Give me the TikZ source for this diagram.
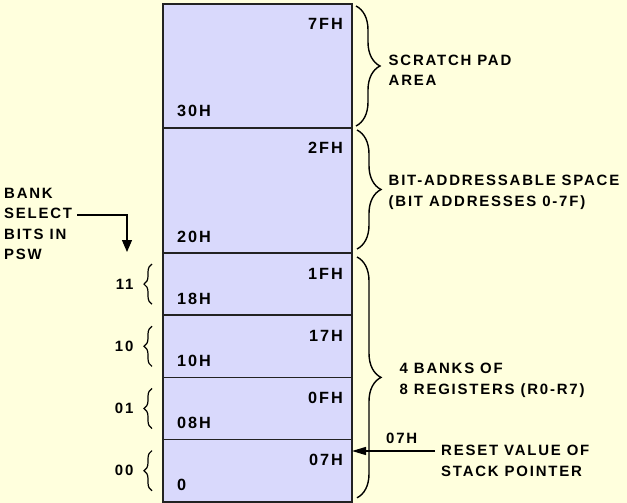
\documentclass[tikz,border=0pt]{standalone}
\usepackage{fontspec}
\setmainfont{Liberation Sans}[LetterSpace=12]
\usetikzlibrary{arrows.meta, positioning, calc, decorations.pathreplacing}
\definecolor{rambg}{HTML}{FFFFDD}
\definecolor{ramfill}{HTML}{D9D9FC}
\definecolor{ramline}{HTML}{222222}

\begin{document}
\begin{tikzpicture}[x=1bp, y=1bp,
    membox/.style={draw=ramline, line width=1.5bp, fill=ramfill, minimum width=189bp, inner sep=0pt, outer sep=0pt},
    addr/.style={font=\bfseries\fontsize{16.3}{16}\selectfont, inner sep=0pt},
    txt/.style={font=\bfseries\fontsize{15}{20.5}\selectfont, align=left, inner sep=0pt},
    bigbrace/.style={decorate, decoration={brace, amplitude=24bp}, line width=1.4bp},
    smallbrace/.style={decorate, decoration={brace, amplitude=8bp}, line width=1.2bp},
    ptr/.style={line width=1.3bp, -{Triangle[length=12bp, width=10bp]}},
    spptr/.style={line width=1.3bp, -{Triangle[length=14bp, width=8bp]}}]
  \fill[rambg] (0,0) rectangle (627,-503);
  \useasboundingbox (0,0) rectangle (627,-503);

  % internal RAM map
  \node[membox, minimum height=124bp] (scratch) at (257.5,-66) {};
  \node[membox, minimum height=125bp, below=0pt of scratch] (bitaddr) {};
  \node[membox, minimum height=62.2bp, below=0pt of bitaddr] (bank3) {};
  \node[membox, minimum height=62.2bp, below=0pt of bank3] (bank2) {};
  \node[membox, minimum height=62.2bp, below=0pt of bank2] (bank1) {};
  \node[membox, minimum height=62.2bp, below=0pt of bank1] (bank0) {};

  \foreach \b/\hi/\lo in {scratch/7FH/30H, bitaddr/2FH/20H, bank3/1FH/18H,
                          bank2/17H/10H, bank1/0FH/08H, bank0/07H/0} {
    \node[addr, anchor=base east] (\b-hi) at ([shift={(-9bp,-26bp)}]\b.north east) {\hi};
    \node[addr, anchor=base west] (\b-lo) at ([shift={(14bp,11bp)}]\b.south west) {\lo};
  }

  % bank select bits
  \foreach \b/\bits in {bank3/11, bank2/10, bank1/01, bank0/00} {
    \draw[smallbrace] ([shift={(-11bp,11bp)}]\b.south west) -- ([shift={(-11bp,-11bp)}]\b.north west)
      node[txt, midway, left=18bp] (\b-sel) {\bits};
  }
  \node[txt, anchor=north west] (bsel) at (4,-188) {BANK\\SELECT\\BITS IN\\PSW};
  \coordinate (bselout) at (77,-215);
  \coordinate (bseltip) at (127,-252);
  \draw[ptr] (bselout) -| (bseltip);

  % areas
  \draw[bigbrace] ([shift={(4bp,-2bp)}]scratch.north east) -- ([shift={(4bp,2bp)}]scratch.south east)
    node[txt, midway, right=32bp, yshift=-4bp] (scratchtxt) {SCRATCH PAD\\AREA};
  \draw[bigbrace] ([shift={(5bp,-2bp)}]bitaddr.north east) -- ([shift={(5bp,4bp)}]bitaddr.south east)
    node[txt, midway, right=31bp, yshift=-3bp] (bitaddrtxt) {BIT-ADDRESSABLE SPACE\\(BIT ADDRESSES 0-7F)};
  \draw[bigbrace] ([shift={(5bp,-4bp)}]bank3.north east) -- ([shift={(5bp,4bp)}]bank0.south east)
    node[txt, midway, right=42bp, yshift=-3bp] (banktxt) {4 BANKS OF\\8 REGISTERS (R0-R7)};

  % stack pointer
  \coordinate (spfrom) at (435,-451);
  \draw[spptr] (spfrom) -- (spfrom -| bank0.east);
  \node[txt, anchor=base west] (spval) at (386,-443) {07H};
  \node[txt, anchor=north west] (sptxt) at (441,-445) {RESET VALUE OF\\STACK POINTER};
\end{tikzpicture}
\end{document}
